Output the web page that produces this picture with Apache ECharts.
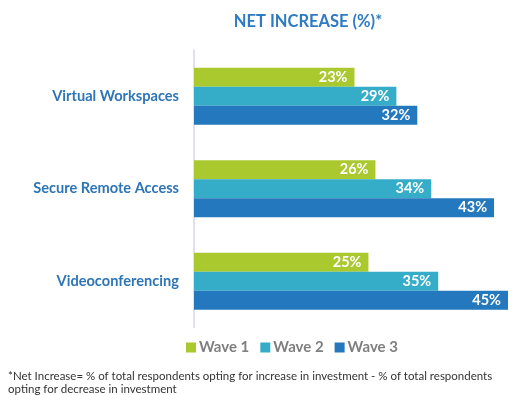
<!DOCTYPE html>
<html><head><meta charset="utf-8">
<script src="https://cdn.jsdelivr.net/npm/echarts@6/dist/echarts.min.js"></script>
<style>html,body{margin:0;padding:0;background:#fff}#c{width:512px;height:395px}</style>
</head><body><div id="c"></div>
<script>
var categories = ['Virtual Workspaces', 'Secure Remote Access', 'Videoconferencing'];
var seriesNames = ['Wave 1', 'Wave 2', 'Wave 3'];
var wave1 = [23, 26, 25];
var wave2 = [29, 34, 35];
var wave3 = [32, 43, 45];
var colors = ['#A9C92F', '#36ADC8', '#2478BD'];
var titleText = 'NET INCREASE (%)*';
var footnote = '*Net Increase= % of total respondents opting for increase in investment - % of total respondents\nopting for decrease in investment';

var chart = echarts.init(document.getElementById('c'));
var data = [wave1, wave2, wave3];
chart.setOption({
  animation: false,
  title: [{
    text: titleText, left: 303, top: 8, textAlign: 'center',
    textStyle: {fontFamily: 'Lato', fontWeight: 'bold', fontSize: 16.5, color: '#2E7BC4'}
  }, {
    text: footnote, left: 3, top: 365,
    textStyle: {fontFamily: 'Lato', fontWeight: 'normal', fontSize: 11.5, color: '#333', lineHeight: 13}
  }],
  legend: {
    data: seriesNames, left: 181, top: 335, itemWidth: 10, itemHeight: 10, itemGap: 11,
    icon: 'rect',
    textStyle: {fontFamily: 'Lato', fontWeight: 'bold', fontSize: 15, color: '#7F7F7F', padding: [0,0,0,-2]}
  },
  grid: {left: 194, top: 50, width: 314, height: 277.5, containLabel: false},
  xAxis: {type: 'value', min: 0, max: 45, show: false},
  yAxis: {
    type: 'category', data: categories, inverse: true,
    axisLine: {lineStyle: {color: '#D6D6F0', width: 1.5}},
    axisTick: {show: false},
    axisLabel: {fontFamily: 'Lato', fontWeight: 'bold', fontSize: 14.6, color: '#2E75B6', margin: 15}
  },
  series: seriesNames.map(function (n, i) {
    return {
      name: n, type: 'bar', data: data[i], barWidth: 19, barGap: '0%',
      itemStyle: {color: colors[i]},
      label: {show: true, position: 'insideRight', formatter: '{c}%', color: '#fff',
        fontFamily: 'Lato', fontWeight: 'bold', fontSize: 14.5, distance: 7}
    };
  })
});
</script></body></html>
